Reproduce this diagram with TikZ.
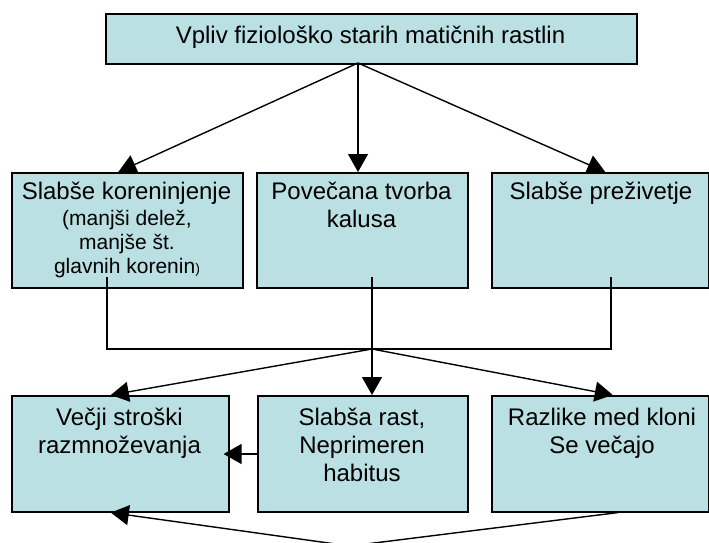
\documentclass[tikz,border=0pt]{standalone}
\usepackage{fontspec}
\setmainfont{Liberation Sans}
\usetikzlibrary{arrows.meta}
\definecolor{boxfill}{RGB}{187,224,227}
\tikzset{
  box/.style={draw=black, line width=1.6pt, fill=boxfill, rectangle, inner sep=0pt, anchor=north west},
  ln/.style={line width=1.4pt, draw=black},
  arr/.style={ln, -{Triangle[length=18pt,width=20pt]}},
  txt/.style={font=\fontsize{24}{28}\selectfont, anchor=base, inner sep=0pt},
  sub/.style={font=\fontsize{21}{24}\selectfont, anchor=base, inner sep=0pt},
}
\begin{document}
\begin{tikzpicture}[x=1pt,y=-1pt]
\useasboundingbox (0,0) rectangle (709,543);
% boxes
\node[box, minimum width=531pt, minimum height=50pt] (top) at (105,13) {};
\node[box, minimum width=231pt, minimum height=115pt] (b1) at (11,172) {};
\node[box, minimum width=211pt, minimum height=115pt] (b2) at (256,172) {};
\node[box, minimum width=217pt, minimum height=115pt] (b3) at (491,172) {};
\node[box, minimum width=217pt, minimum height=116pt] (b4) at (11,395) {};
\node[box, minimum width=210pt, minimum height=116pt] (b5) at (257,395) {};
\node[box, minimum width=217pt, minimum height=116pt] (b6) at (491,395) {};
% texts
\node[txt] (ttop) at (370.5,44) {Vpliv fiziološko starih matičnih rastlin};
\node[txt] (t1a) at (126.5,199) {Slabše koreninjenje};
\node[sub] (t1b) at (127,225) {(manjši delež,};
\node[sub] (t1c) at (127,249) {manjše št.};
\node[sub] (t1d) at (127,273) {glavnih korenin{\fontsize{14}{16}\selectfont)}};
\node[txt] (t2a) at (361.5,199) {Povečana tvorba};
\node[txt] (t2b) at (361.5,227) {kalusa};
\node[txt] (t3a) at (601,199) {Slabše preživetje};
\node[txt] (t4a) at (119.5,425) {Večji stroški};
\node[txt] (t4b) at (119.5,453) {razmnoževanja};
\node[txt] (t5a) at (362,425) {Slabša rast,};
\node[txt] (t5b) at (362,453) {Neprimeren};
\node[txt] (t5c) at (362,481) {habitus};
\node[txt] (t6a) at (602,425) {Razlike med kloni};
\node[txt] (t6b) at (602,453) {Se večajo};
% coordinates
\coordinate (o1) at (358,63);
\coordinate (l1) at (107,277);
\coordinate (m1) at (372,277);
\coordinate (r1) at (611,277);
\coordinate (j) at (372,349);
\coordinate (apex) at (350,546);
% top arrows
\draw[arr] (o1) -- ([xshift=-9pt]b1.north);
\draw[arr] (o1) -- (o1 |- b2.north);
\draw[arr] (o1) -- ([xshift=5pt]b3.north);
% collector
\draw[ln] (l1) |- (j) -| (r1);
\draw[arr] (m1) -- (m1 |- b5.north);
\draw[arr] (j) -- ([xshift=-9.5pt]b4.north);
\draw[arr] (j) -- ([xshift=12.5pt]b6.north);
% horizontal
\draw[arr] (b5.west |- 0,454) -- ([xshift=-6pt]b4.east |- 0,454);
% bottom V
\draw[arr] (apex) -- ([xshift=-9.5pt]b4.south);
\draw[ln] (apex) -- ([xshift=17.5pt]b6.south);
\end{tikzpicture}
\end{document}
